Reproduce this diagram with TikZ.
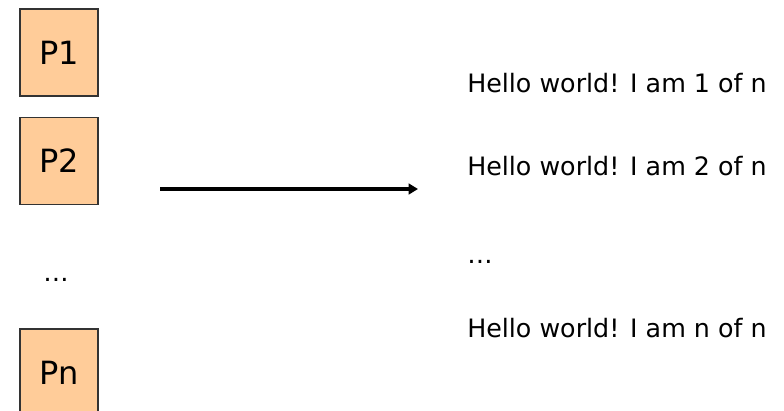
\documentclass[tikz,border=0pt]{standalone}
\usepackage{fontspec}
\setmainfont{DejaVu Sans}
\usetikzlibrary{arrows.meta}
\definecolor{procfill}{HTML}{FFCC99}
\definecolor{procedge}{HTML}{333333}
\tikzset{
  proc/.style={draw=procedge, line width=0.9pt, fill=procfill,
    minimum width=58.5pt, minimum height=65.25pt, inner sep=0pt,
    font=\fontsize{24}{28}\selectfont},
  outline/.style={anchor=base west, inner sep=0pt,
    font=\fontsize{19}{23}\selectfont},
  flow/.style={line width=2.6pt, -{Triangle[length=7pt,width=8pt]}}
}
\begin{document}
\begin{tikzpicture}[x=0.75pt, y=-0.75pt]
  \useasboundingbox (0,0) rectangle (784,410);
  % processes
  \node[proc] (p1) at (59,52.5) {P1};
  \node[proc] (p2) at (59,161) {P2};
  \node[anchor=base, inner sep=0pt, font=\fontsize{19}{23}\selectfont] (pdots) at (56,281) {\ldots};
  \node[proc] (pn) at (59,372.5) {Pn};
  % output lines
  \node[outline] (o1) at (467,92) {Hello world! I am 1 of n};
  \node[outline] (o2) at (467,175) {Hello world! I am 2 of n};
  \node[outline] (odots) at (467,263) {\ldots};
  \node[outline] (on) at (467,337) {Hello world! I am n of n};
  % arrow from processes to output
  \coordinate (a0) at (160,189);
  \coordinate (a1) at (418,189);
  \draw[flow] (a0) -- (a1);
\end{tikzpicture}
\end{document}
